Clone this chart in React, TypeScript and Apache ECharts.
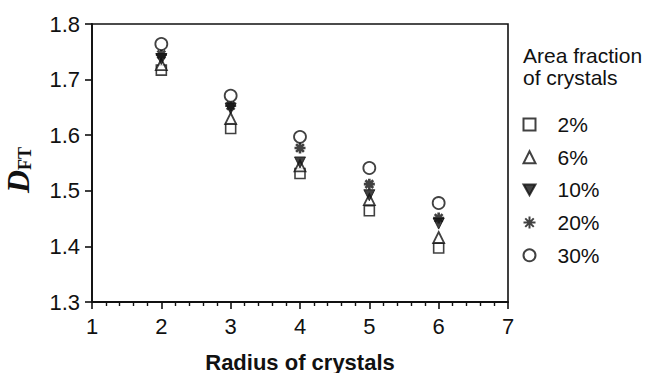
import React, { useEffect, useRef } from "react";
import * as echarts from "echarts";

const radius = [2, 3, 4, 5, 6];
const seriesNames = ["2%", "6%", "10%", "20%", "30%"];
const s2 = [1.717, 1.612, 1.531, 1.464, 1.397];
const s6 = [1.727, 1.63, 1.545, 1.484, 1.416];
const s10 = [1.737, 1.648, 1.551, 1.492, 1.441];
const s20 = [1.745, 1.653, 1.577, 1.512, 1.451];
const s30 = [1.764, 1.671, 1.597, 1.541, 1.478];
const xTicks = [1, 2, 3, 4, 5, 6, 7];
const yTicks = [1.3, 1.4, 1.5, 1.6, 1.7, 1.8];

const INK = "#111";
const FONT = "Liberation Sans, Arial, sans-serif";
const ASTERISK =
  "path://M5 0L5 10M0 5L10 5M1.46 1.46L8.54 8.54M8.54 1.46L1.46 8.54";
const DOWN_TRI = "path://M0 0L10 0L5 9Z";

export default function App() {
  const ref = useRef<HTMLDivElement>(null);
  useEffect(() => {
    if (!ref.current) return;
    const chart = echarts.init(ref.current, undefined, { renderer: "svg" });
    const values = [s2, s6, s10, s20, s30];
    const styles: any[] = [
      { symbol: "rect", itemStyle: { color: "#fff", borderColor: INK, borderWidth: 1.6 }, symbolSize: 10 },
      { symbol: "triangle", itemStyle: { color: "#fff", borderColor: INK, borderWidth: 1.8 }, symbolSize: 11 },
      { symbol: DOWN_TRI, itemStyle: { color: INK, borderColor: INK, borderWidth: 1 }, symbolSize: 11 },
      { symbol: ASTERISK, itemStyle: { color: "none", borderColor: INK, borderWidth: 2.6 }, symbolSize: 11 },
      { symbol: "circle", itemStyle: { color: "#fff", borderColor: INK, borderWidth: 1.8 }, symbolSize: 12 },
    ];
    const series = seriesNames.map((name, i) => ({
      name,
      type: "scatter",
      data: radius.map((r, j) => [r, values[i][j]]),
      symbol: styles[i].symbol,
      symbolSize: styles[i].symbolSize,
      itemStyle: styles[i].itemStyle,
      emphasis: { disabled: true },
      z: 2 + i,
    }));
    chart.setOption({
      animation: false,
      backgroundColor: "#fff",
      title: {
        text: "Area fraction\nof crystals",
        left: 523,
        top: 44,
        textStyle: { fontFamily: FONT, fontSize: 21, fontWeight: "normal", color: INK, lineHeight: 22 },
        padding: 0,
      },
      legend: {
        orient: "vertical",
        left: 516,
        top: 109,
        itemWidth: 12,
        itemHeight: 12,
        itemGap: 11.7,
        selectedMode: false,
        data: seriesNames,
        textStyle: { fontFamily: FONT, fontSize: 21, color: INK, lineHeight: 20, padding: [0, 0, 0, 17] },
      },
      grid: {
        left: 92,
        right: 137,
        top: 24,
        bottom: 71,
        containLabel: false,
        outerBoundsMode: "none",
        show: true,
        borderColor: INK,
        borderWidth: 1.6,
        backgroundColor: "transparent",
      },
      xAxis: {
        type: "value",
        min: xTicks[0],
        max: xTicks[xTicks.length - 1],
        interval: 1,
        name: "Radius of crystals",
        nameLocation: "middle",
        nameGap: 49,
        nameTextStyle: { fontFamily: FONT, fontSize: 22, fontWeight: "bold", color: INK },
        axisLine: { show: true, onZero: false, lineStyle: { color: INK, width: 1.8 } },
        axisTick: { show: true, inside: false, length: 7, lineStyle: { color: INK, width: 1.6 } },
        minorTick: { show: true, splitNumber: 5, length: 4, lineStyle: { color: INK, width: 1.4 } },
        splitLine: { show: false },
        axisLabel: { fontFamily: FONT, fontSize: 22, color: INK, margin: 13 },
      },
      yAxis: {
        type: "value",
        min: yTicks[0],
        max: yTicks[yTicks.length - 1],
        interval: 0.1,
        name: "{d|D}{s|FT}",
        nameLocation: "middle",
        nameRotate: 90,
        nameGap: 58,
        nameTextStyle: {
          padding: [0, 14, 0, 0],
          rich: {
            d: { fontFamily: "Liberation Serif, Times New Roman, serif", fontSize: 32, fontStyle: "italic", fontWeight: "bold", color: INK, verticalAlign: "bottom", lineHeight: 34 },
            s: { fontFamily: "Liberation Serif, Times New Roman, serif", fontSize: 18, fontWeight: "bold", color: INK, verticalAlign: "bottom", lineHeight: 34, padding: [6, 0, 0, 0] },
          },
        },
        axisLine: { show: true, onZero: false, lineStyle: { color: INK, width: 1.8 } },
        axisTick: { show: true, inside: false, length: 7, lineStyle: { color: INK, width: 1.6 } },
        splitLine: { show: false },
        axisLabel: {
          fontFamily: FONT,
          fontSize: 22,
          color: INK,
          margin: 12,
          formatter: (v: number) => v.toFixed(1),
        },
      },
      series,
    });
    return () => chart.dispose();
  }, []);
  return (
    <div
      ref={ref}
      style={{ position: "fixed", left: 0, top: 0, width: 645, height: 373 }}
    />
  );
}
